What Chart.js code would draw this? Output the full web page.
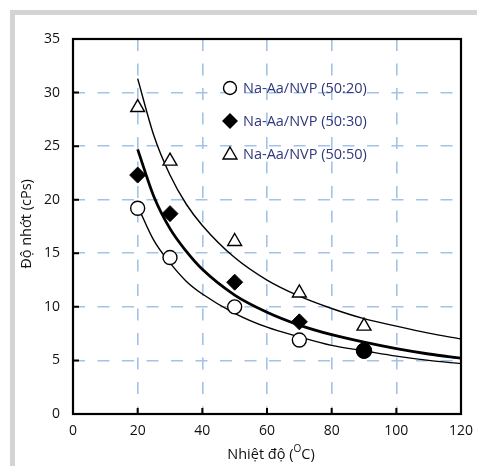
<!DOCTYPE html>
<html>
<head>
<meta charset="UTF-8">
<title>Độ nhớt theo nhiệt độ</title>
<script src="https://cdn.jsdelivr.net/npm/chart.js"></script>
<style>
  body { margin: 0; background: #fff; }
  #wrap { position: relative; width: 477px; height: 466px; overflow: hidden; }
  #frame { position: absolute; left: 10px; top: 10px; right: 0; bottom: 0;
           border-top: 5px solid #d4d4d4; border-left: 5px solid #d4d4d4; }
  #chart { position: absolute; left: 0; top: 0; }
</style>
</head>
<body>
<div id="wrap">
  <div id="frame"></div>
  <canvas id="chart" width="477" height="466"></canvas>
</div>
<script>
// measured points
const temps = [20, 30, 50, 70, 90];
const visc5020 = [19.2, 14.6, 10.0, 6.9, 5.9];
const visc5030 = [22.3, 18.7, 12.3, 8.6, 5.9];
const visc5050 = [28.6, 23.6, 16.1, 11.3, 8.2];

// fitted curves
const fitTemps = [20, 25, 30, 35, 40, 50, 60, 70, 80, 90, 100, 110, 120];
const fit5020 = [19.4, 16.2, 14.1, 12.4, 11.2, 9.4, 8.1, 7.2, 6.4, 5.9, 5.4, 5.0, 4.7];
const fit5030 = [24.7, 20.3, 17.3, 15.2, 13.5, 11.1, 9.5, 8.3, 7.4, 6.7, 6.1, 5.6, 5.2];
const fit5050 = [31.3, 26.0, 22.3, 19.6, 17.6, 14.6, 12.5, 11.0, 9.85, 8.9, 8.2, 7.55, 7.0];

const seriesNames = ['Na-Aa/NVP (50:20)', 'Na-Aa/NVP (50:30)', 'Na-Aa/NVP (50:50)'];
const xTicks = [0, 20, 40, 60, 80, 100, 120];
const yTicks = [0, 5, 10, 15, 20, 25, 30, 35];

const FONT = '"Open Sans", "Noto Sans", sans-serif';
const pts = (xs, ys) => xs.map((x, i) => ({ x, y: ys[i] }));

function drawMarker(ctx, style, x, y, r, fill) {
   ctx.beginPath();
   if (style === 'circle') {
      ctx.arc(x, y, r, 0, Math.PI * 2);
   } else if (style === 'rectRot') {
      ctx.moveTo(x, y - r); ctx.lineTo(x + r, y); ctx.lineTo(x, y + r); ctx.lineTo(x - r, y);
      ctx.closePath();
   } else {
      const h = r * Math.sqrt(3) / 2;
      ctx.moveTo(x, y - r); ctx.lineTo(x + h, y + r / 2); ctx.lineTo(x - h, y + r / 2);
      ctx.closePath();
   }
   ctx.fillStyle = fill;
   ctx.fill();
   ctx.strokeStyle = '#000';
   ctx.lineWidth = 1.4;
   ctx.stroke();
}

const decor = {
   id: 'decor',
   afterDraw(chart) {
      const { ctx, chartArea: a, scales } = chart;
      ctx.save();

      // tick marks pointing inwards
      ctx.strokeStyle = '#000';
      ctx.lineWidth = 2;
      ctx.beginPath();
      for (const v of xTicks) {
         const px = scales.x.getPixelForValue(v);
         ctx.moveTo(px, a.bottom); ctx.lineTo(px, a.bottom - 6);
      }
      for (const v of yTicks) {
         const py = scales.y.getPixelForValue(v);
         ctx.moveTo(a.left, py); ctx.lineTo(a.left + 6, py);
      }
      ctx.stroke();

      // plot frame
      ctx.lineWidth = 2.2;
      ctx.strokeRect(a.left, a.top, a.right - a.left, a.bottom - a.top);

      // legend inside the plot
      const styles = [['circle', '#fff', 6.5], ['rectRot', '#000', 7], ['triangle', '#fff', 8]];
      const rows = [88, 121, 154];
      ctx.font = '14.5px ' + FONT;
      ctx.textBaseline = 'middle';
      ctx.textAlign = 'left';
      seriesNames.forEach((name, i) => {
         const [st, fill, r] = styles[i];
         drawMarker(ctx, st, 230, rows[i] + (st === 'triangle' ? 1 : 0), r, fill);
         ctx.fillStyle = '#31377c';
         ctx.fillText(name, 243, rows[i] + 1);
      });

      // x axis title with superscript O
      ctx.fillStyle = '#111';
      ctx.textBaseline = 'alphabetic';
      const big = '14.5px ' + FONT, small = '10px ' + FONT;
      const p1 = 'Nhiệt độ (', p2 = 'O', p3 = 'C)';
      ctx.font = big;
      const w1 = ctx.measureText(p1).width, w3 = ctx.measureText(p3).width;
      ctx.font = small;
      const w2 = ctx.measureText(p2).width;
      let tx = (a.left + a.right) / 2 + 4 - (w1 + w2 + w3) / 2;
      ctx.font = big; ctx.fillText(p1, tx, 459); tx += w1;
      ctx.font = small; ctx.fillText(p2, tx, 452); tx += w2;
      ctx.font = big; ctx.fillText(p3, tx, 459);

      // y axis title
      ctx.translate(31, 224);
      ctx.rotate(-Math.PI / 2);
      ctx.textAlign = 'center';
      ctx.font = big;
      ctx.fillText('Độ nhớt (cPs)', 0, 0);
      ctx.restore();
   }
};

const gridStyle = { color: '#a3c2e8', lineWidth: 1.6, drawTicks: false };

new Chart(document.getElementById('chart'), {
   type: 'scatter',
   data: {
      datasets: [
         {
            label: seriesNames[2], data: pts(temps, visc5050), pointStyle: 'triangle',
            pointRadius: 8, backgroundColor: '#fff', borderColor: '#000', borderWidth: 1.4, order: 0
         },
         {
            label: seriesNames[0], data: pts(temps, visc5020), pointStyle: 'circle',
            pointRadius: 7, backgroundColor: '#fff', borderColor: '#000', borderWidth: 1.4, order: 1
         },
         {
            label: seriesNames[1], data: pts(temps, visc5030),
            pointStyle: ['rectRot', 'rectRot', 'rectRot', 'rectRot', 'circle'],
            pointRadius: [8, 8, 8, 8, 7.7], backgroundColor: '#000', borderColor: '#000', borderWidth: 1, order: 0
         },
         {
            label: 'fit 50:20', data: pts(fitTemps, fit5020), showLine: true, pointRadius: 0,
            borderColor: '#000', borderWidth: 1.4, cubicInterpolationMode: 'monotone', order: 5
         },
         {
            label: 'fit 50:30', data: pts(fitTemps, fit5030), showLine: true, pointRadius: 0,
            borderColor: '#000', borderWidth: 2.8, cubicInterpolationMode: 'monotone', order: 5
         },
         {
            label: 'fit 50:50', data: pts(fitTemps, fit5050), showLine: true, pointRadius: 0,
            borderColor: '#000', borderWidth: 1.4, cubicInterpolationMode: 'monotone', order: 5
         }
      ]
   },
   options: {
      responsive: false,
      animation: false,
      devicePixelRatio: 1,
      layout: { autoPadding: false, padding: { top: 39, right: 16, left: 0, bottom: 0 } },
      plugins: { legend: { display: false }, tooltip: { enabled: false } },
      scales: {
         x: {
            type: 'linear', min: 0, max: 120,
            afterFit: s => { s.height = 52; s.paddingLeft = 0; s.paddingRight = 0; },
            afterBuildTicks: s => { s.ticks = xTicks.map(v => ({ value: v })); },
            grid: gridStyle,
            border: { display: false, dash: [12, 12.5] },
            ticks: { padding: 9, color: '#111', font: { family: FONT, size: 14 } }
         },
         y: {
            type: 'linear', min: 0, max: 35,
            afterFit: s => { s.width = 73; },
            afterBuildTicks: s => { s.ticks = yTicks.map(v => ({ value: v })); },
            grid: gridStyle,
            border: { display: false, dash: [12, 12.5] },
            ticks: { padding: 13, color: '#111', font: { family: FONT, size: 14 } }
         }
      }
   },
   plugins: [decor]
});
</script>
</body>
</html>
